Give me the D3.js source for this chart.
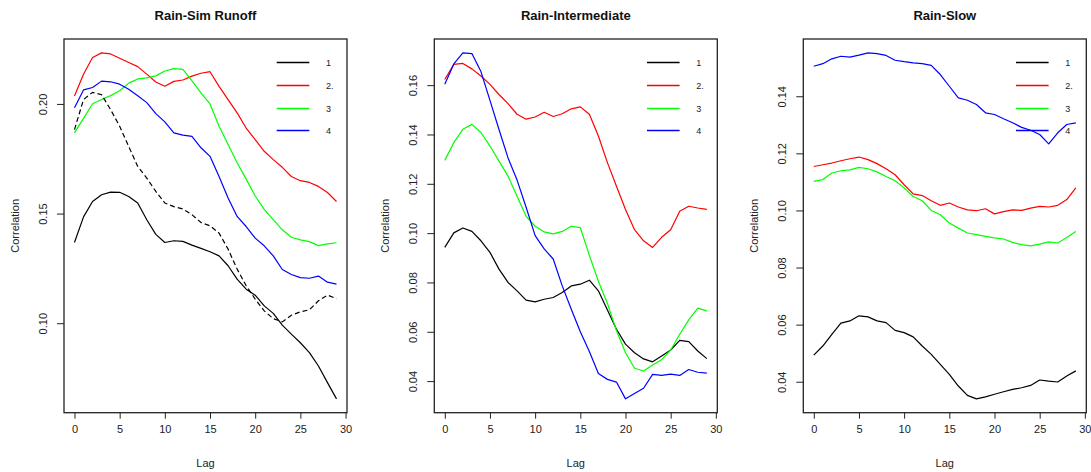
<!DOCTYPE html>
<html>
<head>
<meta charset="utf-8">
<script src="https://cdn.jsdelivr.net/npm/d3@7"></script>
<style>
  html, body { margin: 0; padding: 0; background: #fff; }
  svg { display: block; font-family: "Liberation Sans", Arial, sans-serif; }
</style>
</head>
<body>
<svg id="chart" width="1091" height="472"></svg>
<script>
// Lags shared by every panel
const lags = [0,1,2,3,4,5,6,7,8,9,10,11,12,13,14,15,16,17,18,19,20,21,22,23,24,25,26,27,28,29];
const xTicks = [0,5,10,15,20,25,30];
const legendLabels = ["1", "2.", "3", "4"];

// Rain-Sim Runoff
const runoff1 = [0.1368,0.1485,0.1555,0.1586,0.1598,0.1597,0.1578,0.1548,0.1472,0.1405,0.1368,0.1376,0.1373,0.1356,0.1341,0.1326,0.1307,0.1262,0.1201,0.1155,0.1128,0.1079,0.1045,0.0991,0.0950,0.0911,0.0866,0.0805,0.0729,0.0655];
const runoff2 = [0.2036,0.2135,0.2212,0.2233,0.2228,0.2208,0.2189,0.2170,0.2136,0.2100,0.2081,0.2103,0.2109,0.2127,0.2140,0.2147,0.2080,0.2020,0.1959,0.1890,0.1837,0.1784,0.1746,0.1711,0.1669,0.1650,0.1642,0.1624,0.1596,0.1555];
const runoff3 = [0.1868,0.1934,0.2001,0.2020,0.2038,0.2060,0.2095,0.2114,0.2119,0.2128,0.2150,0.2161,0.2158,0.2105,0.2050,0.2000,0.1898,0.1815,0.1732,0.1657,0.1580,0.1519,0.1472,0.1426,0.1392,0.1380,0.1372,0.1354,0.1362,0.1367];
const runoff4 = [0.1983,0.2064,0.2075,0.2104,0.2101,0.2090,0.2067,0.2037,0.2006,0.1956,0.1918,0.1868,0.1858,0.1852,0.1800,0.1761,0.1669,0.1571,0.1487,0.1441,0.1388,0.1353,0.1307,0.1245,0.1222,0.1208,0.1205,0.1215,0.1187,0.1178];
const runoffDashed = [0.1883,0.2020,0.2053,0.2042,0.1974,0.1898,0.1806,0.1715,0.1662,0.1601,0.1548,0.1532,0.1521,0.1495,0.1459,0.1444,0.1411,0.1338,0.1247,0.1171,0.1110,0.1056,0.1021,0.1006,0.1036,0.1052,0.1061,0.1102,0.1128,0.1112];
const runoffTicks = [0.10, 0.15, 0.20];

// Rain-Intermediate
const inter1 = [0.0942,0.1001,0.1021,0.1007,0.0969,0.0922,0.0854,0.0800,0.0766,0.0728,0.0721,0.0732,0.0739,0.0759,0.0786,0.0793,0.0809,0.0766,0.0688,0.0610,0.0550,0.0515,0.0490,0.0478,0.0502,0.0526,0.0565,0.0560,0.0522,0.0491];
const inter2 = [0.1623,0.1684,0.1688,0.1666,0.1637,0.1603,0.1562,0.1525,0.1482,0.1462,0.1471,0.1490,0.1473,0.1484,0.1504,0.1512,0.1482,0.1394,0.1286,0.1190,0.1096,0.1014,0.0969,0.0942,0.0983,0.1014,0.1089,0.1109,0.1102,0.1096];
const inter3 = [0.1295,0.1367,0.1421,0.1441,0.1408,0.1353,0.1292,0.1231,0.1150,0.1068,0.1028,0.1005,0.0997,0.1007,0.1028,0.1022,0.0910,0.0805,0.0715,0.0605,0.0515,0.0452,0.0441,0.0465,0.0487,0.0526,0.0590,0.0648,0.0696,0.0685];
const inter4 = [0.1604,0.1686,0.1731,0.1728,0.1655,0.1538,0.1420,0.1305,0.1215,0.1105,0.0990,0.0936,0.0895,0.0786,0.0691,0.0600,0.0520,0.0431,0.0407,0.0396,0.0328,0.0350,0.0371,0.0427,0.0423,0.0428,0.0423,0.0447,0.0436,0.0432];
const interTicks = [0.04, 0.06, 0.08, 0.10, 0.12, 0.14, 0.16];

// Rain-Slow
const slow1 = [0.0493,0.0525,0.0566,0.0605,0.0613,0.0631,0.0627,0.0613,0.0607,0.0580,0.0572,0.0557,0.0525,0.0496,0.0461,0.0426,0.0385,0.0352,0.0340,0.0347,0.0356,0.0365,0.0373,0.0379,0.0387,0.0406,0.0402,0.0399,0.0420,0.0438];
const slow2 = [0.1154,0.1160,0.1166,0.1174,0.1181,0.1187,0.1178,0.1164,0.1146,0.1125,0.1090,0.1058,0.1052,0.1034,0.1018,0.1026,0.1012,0.1002,0.0999,0.1006,0.0988,0.0996,0.1002,0.1000,0.1008,0.1014,0.1012,0.1018,0.1038,0.1079];
const slow3 = [0.1102,0.1108,0.1131,0.1139,0.1142,0.1151,0.1146,0.1135,0.1119,0.1104,0.1079,0.1049,0.1034,0.1000,0.0985,0.0956,0.0938,0.0921,0.0915,0.0909,0.0904,0.0900,0.0888,0.0880,0.0876,0.0882,0.0890,0.0886,0.0905,0.0926];
const slow4 = [0.1505,0.1514,0.1531,0.1540,0.1537,0.1544,0.1552,0.1549,0.1543,0.1526,0.1521,0.1517,0.1514,0.1508,0.1476,0.1435,0.1394,0.1386,0.1371,0.1342,0.1336,0.1321,0.1307,0.1291,0.1281,0.1266,0.1233,0.1272,0.1301,0.1307];
const slowTicks = [0.04, 0.06, 0.08, 0.10, 0.12, 0.14];

const seriesColors = ["#000000", "#ff0000", "#00ff00", "#0000ff"];

const panels = [
  { title: "Rain-Sim Runoff", left: 64, series: [runoff1, runoff2, runoff3, runoff4], dashed: runoffDashed, yTicks: runoffTicks },
  { title: "Rain-Intermediate", left: 434.3, series: [inter1, inter2, inter3, inter4], dashed: null, yTicks: interTicks },
  { title: "Rain-Slow", left: 803.3, series: [slow1, slow2, slow3, slow4], dashed: null, yTicks: slowTicks }
];

const plotW = 283, plotTop = 39, plotBottom = 412.7;
const svg = d3.select("#chart");

// R-style padded range: extend the data range by 4% on each side
function padded(min, max) {
  const d = (max - min) * 0.04;
  return [min - d, max + d];
}

panels.forEach(p => {
  const g = svg.append("g");
  const all = p.series.flat().concat(p.dashed || []);
  const x = d3.scaleLinear().domain(padded(d3.min(lags), d3.max(lags))).range([p.left, p.left + plotW]);
  const y = d3.scaleLinear().domain(padded(d3.min(all), d3.max(all))).range([plotBottom, plotTop]);

  const line = d3.line().x((d, i) => x(lags[i])).y(d => y(d));

  p.series.forEach((s, k) => {
    g.append("path").attr("d", line(s))
      .attr("fill", "none").attr("stroke", seriesColors[k]).attr("stroke-width", 1.2)
      .attr("stroke-linejoin", "round");
  });
  if (p.dashed) {
    g.append("path").attr("d", line(p.dashed))
      .attr("fill", "none").attr("stroke", "#000").attr("stroke-width", 1.2)
      .attr("stroke-dasharray", "5,3");
  }

  // Plot frame
  g.append("rect").attr("x", p.left).attr("y", plotTop)
    .attr("width", plotW).attr("height", plotBottom - plotTop)
    .attr("fill", "none").attr("stroke", "#222").attr("stroke-width", 1.3);

  // Bottom axis
  const xa = g.append("g").attr("transform", `translate(0,${plotBottom})`)
    .call(d3.axisBottom(x).tickValues(xTicks).tickSize(6).tickPadding(7).tickFormat(d3.format("d")));
  xa.select(".domain").remove();
  xa.selectAll("line").attr("stroke", "#222");
  xa.selectAll("text").attr("font-size", 11).attr("fill", "#222")
    .attr("font-family", "Liberation Sans, Arial, sans-serif");

  // Left axis with rotated labels
  const ya = g.append("g").attr("transform", `translate(${p.left},0)`)
    .call(d3.axisLeft(y).tickValues(p.yTicks).tickSize(7).tickFormat(d3.format(".2f")));
  ya.select(".domain").remove();
  ya.selectAll("line").attr("stroke", "#222");
  ya.selectAll("text")
    .attr("font-size", 11).attr("fill", "#222")
    .attr("font-family", "Liberation Sans, Arial, sans-serif")
    .attr("x", null).attr("dy", null)
    .attr("text-anchor", "middle")
    .attr("transform", "translate(-17,0) rotate(-90)");

  // Titles and axis labels
  g.append("text").attr("x", p.left + plotW / 2).attr("y", 20)
    .attr("text-anchor", "middle").attr("font-size", 13).attr("font-weight", "bold")
    .attr("fill", "#111").text(p.title);
  g.append("text").attr("x", p.left + plotW / 2).attr("y", 467)
    .attr("text-anchor", "middle").attr("font-size", 11).attr("fill", "#222").text("Lag");
  g.append("text")
    .attr("transform", `translate(${p.left - 45},${(plotTop + plotBottom) / 2}) rotate(-90)`)
    .attr("text-anchor", "middle").attr("font-size", 11).attr("fill", "#222").text("Correlation");

  // Legend (no frame), rows snapped to the pixel grid for crisp strokes
  const right = p.left + plotW;
  legendLabels.forEach((lab, k) => {
    const ly = Math.round(62.3 + k * 22.6) + 0.5;
    g.append("line").attr("x1", right - 70.3).attr("x2", right - 37.7)
      .attr("y1", ly).attr("y2", ly)
      .attr("stroke", seriesColors[k]).attr("stroke-width", 1.3);
    g.append("text").attr("x", right - 21).attr("y", ly + 3)
      .attr("font-size", 9).attr("fill", "#222").text(lab);
  });
});
</script>
</body>
</html>
